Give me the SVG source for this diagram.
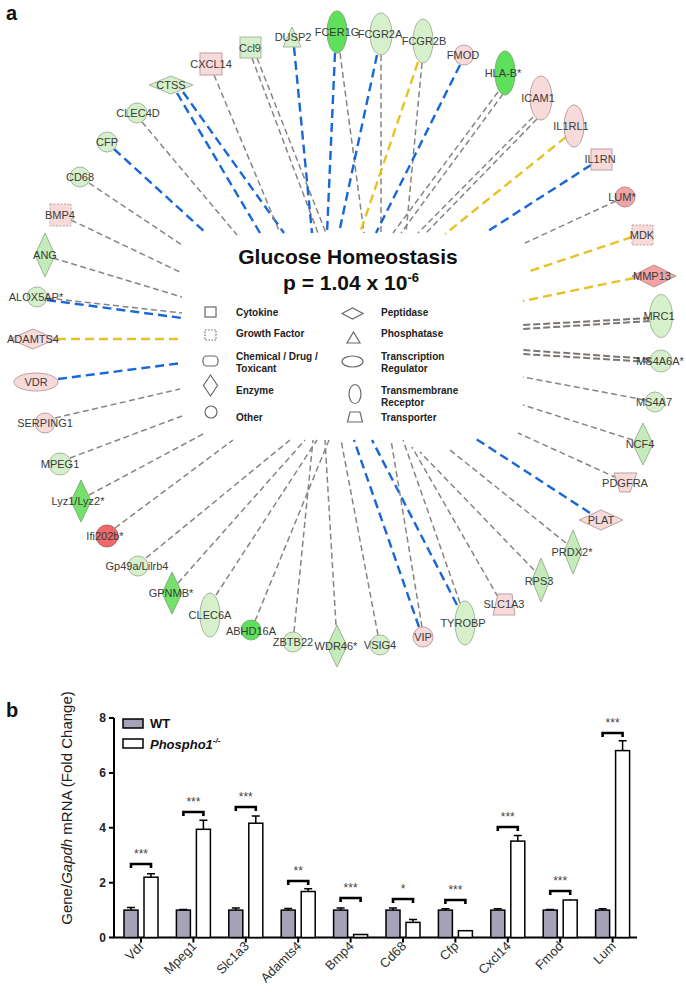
<svg xmlns="http://www.w3.org/2000/svg" width="686" height="992" viewBox="0 0 686 992">
<style>
.g{stroke:#8a8480;stroke-width:1.5;stroke-dasharray:6 3.5;fill:none}
.gt{stroke:#7d7773;stroke-width:2;stroke-dasharray:7 3;fill:none}
.b{stroke:#1767d6;stroke-width:2.4;stroke-dasharray:9 5;fill:none}
.y{stroke:#e6c229;stroke-width:2.4;stroke-dasharray:9 5;fill:none}
.lg{fill:#d6f0cb;stroke:#a5b79e;stroke-width:1}
.mg{fill:#c6ebba;stroke:#9cb394;stroke-width:1}
.bg{fill:#5fe05a;stroke:#7fae7a;stroke-width:1}
.vg{fill:#74e26a;stroke:#7fae7a;stroke-width:1}
.pk{fill:#f8dada;stroke:#b9a2a2;stroke-width:1}
.sa{fill:#f2a3a3;stroke:#b98c8c;stroke-width:1}
.rd{fill:#f06868;stroke:#b46464;stroke-width:1}
.dot{stroke-dasharray:2 1.5}
.lbl{font-family:"Liberation Sans",Arial,sans-serif;font-size:11px;fill:#3a3a3a;text-anchor:middle}
.lt{font-family:"Liberation Sans",Arial,sans-serif;font-size:10px;font-weight:bold;fill:#222}
.li{fill:none;stroke:#6a6a6a;stroke-width:1.2}
.ax{stroke:#000;stroke-width:2;fill:none}
.bar{stroke:#000;stroke-width:1.5}
.wt{fill:#a6a2b8}
.ko{fill:#fff}
.eb{stroke:#000;stroke-width:1.5;fill:none}
.br{stroke:#000;stroke-width:2.6;fill:none}
.st{font-family:"Liberation Sans",Arial,sans-serif;font-size:12px;fill:#444;text-anchor:middle}
.xl{font-family:"Liberation Sans",Arial,sans-serif;font-size:13px;fill:#333;text-anchor:end}
.yl{font-family:"Liberation Sans",Arial,sans-serif;font-size:12px;font-weight:bold;fill:#222;text-anchor:end}
</style>
<rect width="686" height="992" fill="#fff"/>
<text x="6" y="20" font-family="Liberation Sans, Arial, sans-serif" font-size="20" font-weight="bold" fill="#111">a</text>
<text x="6" y="717" font-family="Liberation Sans, Arial, sans-serif" font-size="20" font-weight="bold" fill="#111">b</text>

<g id="connectors">
<line class="b" x1="177" y1="93" x2="260" y2="233"/>
<line class="b" x1="183" y1="92" x2="284" y2="233"/>
<line class="g" x1="214" y1="75" x2="280" y2="233"/>
<line class="g" x1="252" y1="58" x2="318" y2="233"/>
<line class="g" x1="257" y1="58" x2="326" y2="233"/>
<line class="b" x1="294" y1="47" x2="312" y2="233"/>
<line class="b" x1="335" y1="53" x2="327" y2="233"/>
<line class="g" x1="340" y1="53" x2="364" y2="233"/>
<line class="b" x1="377" y1="55" x2="339" y2="233"/>
<line class="g" x1="381" y1="55" x2="381" y2="233"/>
<line class="y" x1="418" y1="62" x2="360" y2="233"/>
<line class="g" x1="422" y1="63" x2="406" y2="233"/>
<line class="b" x1="460" y1="65" x2="376" y2="233"/>
<line class="g" x1="498" y1="92" x2="393" y2="233"/>
<line class="g" x1="503" y1="94" x2="401" y2="233"/>
<line class="g" x1="533" y1="117" x2="418" y2="233"/>
<line class="g" x1="537" y1="119" x2="426" y2="233"/>
<line class="y" x1="566" y1="137" x2="445" y2="234"/>
<line class="b" x1="591" y1="165" x2="485" y2="233"/>
<line class="g" x1="616" y1="201" x2="525" y2="243"/>
<line class="y" x1="632" y1="237" x2="527" y2="272"/>
<line class="y" x1="634" y1="278" x2="523" y2="301"/>
<line class="gt" x1="650" y1="318" x2="523" y2="325"/>
<line class="gt" x1="650" y1="321" x2="523" y2="329"/>
<line class="gt" x1="650" y1="359" x2="523" y2="350"/>
<line class="gt" x1="650" y1="362" x2="523" y2="354"/>
<line class="g" x1="645" y1="400" x2="523" y2="377"/>
<line class="g" x1="633" y1="440" x2="523" y2="405"/>
<line class="g" x1="617" y1="478" x2="518" y2="433"/>
<line class="b" x1="590" y1="513" x2="473" y2="437"/>
<line class="g" x1="566" y1="543" x2="450" y2="450"/>
<line class="g" x1="534" y1="570" x2="420" y2="452"/>
<line class="g" x1="498" y1="597" x2="412" y2="447"/>
<line class="b" x1="457" y1="605" x2="372" y2="440"/>
<line class="g" x1="460" y1="603" x2="403" y2="440"/>
<line class="b" x1="419" y1="627" x2="354" y2="440"/>
<line class="g" x1="422" y1="627" x2="391" y2="440"/>
<line class="g" x1="378" y1="635" x2="341" y2="440"/>
<line class="g" x1="336" y1="625" x2="325" y2="440"/>
<line class="g" x1="294" y1="632" x2="313" y2="440"/>
<line class="g" x1="255" y1="621" x2="329" y2="440"/>
<line class="g" x1="216" y1="595" x2="317" y2="440"/>
<line class="g" x1="178" y1="583" x2="305" y2="440"/>
<line class="g" x1="146" y1="558" x2="290" y2="440"/>
<line class="g" x1="115" y1="528" x2="233" y2="440"/>
<line class="g" x1="89" y1="495" x2="205" y2="433"/>
<line class="g" x1="70" y1="458" x2="182" y2="416"/>
<line class="g" x1="55" y1="418" x2="180" y2="389"/>
<line class="b" x1="58" y1="379" x2="182" y2="363"/>
<line class="y" x1="57" y1="339" x2="182" y2="339"/>
<line class="g" x1="47" y1="298" x2="182" y2="313"/>
<line class="b" x1="47" y1="300" x2="182" y2="318"/>
<line class="g" x1="53" y1="258" x2="182" y2="297"/>
<line class="g" x1="71" y1="220" x2="182" y2="273"/>
<line class="g" x1="89" y1="183" x2="182" y2="245"/>
<line class="b" x1="114" y1="149" x2="206" y2="233"/>
<line class="g" x1="142" y1="122" x2="237" y2="235"/>
</g>

<g id="n-CTSS"><polygon class="lg" points="171,76 193,85 171,94 149,85"/><text class="lbl" x="171" y="89">CTSS</text></g>
<g id="n-CXCL14"><rect class="pk" x="200" y="53" width="22" height="22"/><text class="lbl" x="211" y="68">CXCL14</text></g>
<g id="n-Ccl9"><rect class="lg" x="240" y="37" width="21" height="21"/><text class="lbl" x="250" y="52">Ccl9</text></g>
<g id="n-DUSP2"><polygon class="lg" points="292,27 301,47 283,47"/><text class="lbl" x="293" y="41">DUSP2</text></g>
<g id="n-FCER1G"><ellipse class="bg" cx="337" cy="32" rx="10" ry="21"/><text class="lbl" x="337" y="36">FCER1G</text></g>
<g id="n-FCGR2A"><ellipse class="lg" cx="381" cy="34" rx="11" ry="21"/><text class="lbl" x="380" y="38">FCGR2A</text></g>
<g id="n-FCGR2B"><ellipse class="lg" cx="423" cy="41" rx="10" ry="22"/><text class="lbl" x="424" y="45">FCGR2B</text></g>
<g id="n-FMOD"><circle class="pk" cx="464" cy="55" r="10"/><text class="lbl" x="463" y="59">FMOD</text></g>
<g id="n-HLA-B"><ellipse class="bg" cx="505" cy="73" rx="10" ry="22"/><text class="lbl" x="503" y="77">HLA-B*</text></g>
<g id="n-ICAM1"><ellipse class="pk" cx="541" cy="98" rx="11" ry="22"/><text class="lbl" x="538" y="102">ICAM1</text></g>
<g id="n-IL1RL1"><ellipse class="pk" cx="574" cy="126" rx="10" ry="21"/><text class="lbl" x="571" y="130">IL1RL1</text></g>
<g id="n-IL1RN"><rect class="pk" x="591" y="149" width="21" height="21"/><text class="lbl" x="600" y="163">IL1RN</text></g>
<g id="n-LUM"><circle class="sa" cx="625" cy="197" r="10"/><text class="lbl" x="622" y="201">LUM*</text></g>
<g id="n-MDK"><rect class="pk dot" x="632" y="225" width="21" height="20"/><text class="lbl" x="642" y="239">MDK</text></g>
<g id="n-MMP13"><polygon class="sa" points="654,265 676,276 654,287 632,276"/><text class="lbl" x="652" y="280">MMP13</text></g>
<g id="n-MRC1"><ellipse class="lg" cx="661" cy="316" rx="11.5" ry="21.5"/><text class="lbl" x="659" y="320">MRC1</text></g>
<g id="n-MS4A6A"><circle class="lg" cx="661" cy="361" r="11"/><text class="lbl" x="660" y="365">MS4A6A*</text></g>
<g id="n-MS4A7"><circle class="lg" cx="655" cy="402" r="10"/><text class="lbl" x="654" y="406">MS4A7</text></g>
<g id="n-NCF4"><polygon class="mg" points="643,423 653,444 643,465 633,444"/><text class="lbl" x="640" y="448">NCF4</text></g>
<g id="n-PDGFRA"><polygon class="pk" points="614,473 637,473 630,492 620,492"/><text class="lbl" x="625" y="487">PDGFRA</text></g>
<g id="n-PLAT"><polygon class="pk" points="601,510 623,520 601,530 579,520"/><text class="lbl" x="601" y="524">PLAT</text></g>
<g id="n-PRDX2"><polygon class="mg" points="573,530 582,552 573,574 564,552"/><text class="lbl" x="572" y="556">PRDX2*</text></g>
<g id="n-RPS3"><polygon class="mg" points="541,558 550,580 541,602 532,580"/><text class="lbl" x="539" y="585">RPS3</text></g>
<g id="n-SLC1A3"><polygon class="pk" points="498,594 512,594 515,615 493,615"/><text class="lbl" x="504" y="608">SLC1A3</text></g>
<g id="n-TYROBP"><ellipse class="lg" cx="465" cy="623" rx="10" ry="22"/><text class="lbl" x="463" y="627">TYROBP</text></g>
<g id="n-VIP"><circle class="pk" cx="423" cy="637" r="10"/><text class="lbl" x="423" y="641">VIP</text></g>
<g id="n-VSIG4"><circle class="lg" cx="380" cy="645" r="10"/><text class="lbl" x="380" y="649">VSIG4</text></g>
<g id="n-WDR46"><polygon class="mg" points="337,625 347,646 337,667 327,646"/><text class="lbl" x="336" y="650">WDR46*</text></g>
<g id="n-ZBTB22"><circle class="lg" cx="293" cy="642" r="10"/><text class="lbl" x="293" y="646">ZBTB22</text></g>
<g id="n-ABHD16A"><circle class="bg" cx="251" cy="630" r="10"/><text class="lbl" x="251" y="635">ABHD16A</text></g>
<g id="n-CLEC6A"><ellipse class="lg" cx="210" cy="615" rx="10" ry="22"/><text class="lbl" x="210" y="619">CLEC6A</text></g>
<g id="n-GPNMB"><polygon class="vg" points="172,572 182,593 172,614 162,593"/><text class="lbl" x="171" y="597">GPNMB*</text></g>
<g id="n-Gp49a"><circle class="lg" cx="138" cy="566" r="10"/><text class="lbl" x="137" y="570">Gp49a/Lilrb4</text></g>
<g id="n-Ifi202b"><circle class="rd" cx="107" cy="536" r="11"/><text class="lbl" x="105" y="540">Ifi202b*</text></g>
<g id="n-Lyz1"><polygon class="vg" points="81,480 91,501 81,522 71,501"/><text class="lbl" x="78" y="505">Lyz1/Lyz2*</text></g>
<g id="n-MPEG1"><circle class="lg" cx="60" cy="464" r="11"/><text class="lbl" x="60" y="468">MPEG1</text></g>
<g id="n-SERPING1"><circle class="pk" cx="45" cy="423" r="10"/><text class="lbl" x="45" y="427">SERPING1</text></g>
<g id="n-VDR"><ellipse class="pk" cx="36" cy="382" rx="22" ry="9"/><text class="lbl" x="36" y="386">VDR</text></g>
<g id="n-ADAMTS4"><polygon class="pk" points="33,329 56,339 33,349 10,339"/><text class="lbl" x="33" y="343">ADAMTS4</text></g>
<g id="n-ALOX5AP"><circle class="lg" cx="37" cy="297" r="10"/><text class="lbl" x="36" y="301">ALOX5AP*</text></g>
<g id="n-ANG"><polygon class="mg" points="45,233 55,255 45,277 35,255"/><text class="lbl" x="45" y="259">ANG</text></g>
<g id="n-BMP4"><rect class="pk dot" x="50" y="204" width="21" height="22"/><text class="lbl" x="60" y="219">BMP4</text></g>
<g id="n-CD68"><circle class="lg" cx="80" cy="177" r="10"/><text class="lbl" x="80" y="181">CD68</text></g>
<g id="n-CFP"><circle class="lg" cx="107" cy="142" r="10"/><text class="lbl" x="107" y="146">CFP</text></g>
<g id="n-CLEC4D"><circle class="lg" cx="137" cy="113" r="10"/><text class="lbl" x="138" y="117">CLEC4D</text></g>

<g id="legend">
<text x="348" y="264" font-family="Liberation Sans, Arial, sans-serif" font-size="21" font-weight="bold" fill="#111" text-anchor="middle">Glucose Homeostasis</text>
<text x="351" y="290" font-family="Liberation Sans, Arial, sans-serif" font-size="21" font-weight="bold" fill="#111" text-anchor="middle">p = 1.04 x 10<tspan font-size="13" dy="-8">-6</tspan></text>
<rect class="li" x="205" y="307" width="11" height="10"/>
<rect class="li" x="205" y="330" width="11" height="10" stroke-dasharray="1.5 1.5"/>
<rect class="li" x="203" y="356" width="15" height="10" rx="4"/>
<polygon class="li" points="210.5,375 217.5,385.5 210.5,396 203.5,385.5"/>
<circle class="li" cx="211" cy="412" r="6"/>
<polygon class="li" points="342,313.5 352.5,308 363,313.5 352.5,319"/>
<polygon class="li" points="353.5,332 360,343 347,343"/>
<ellipse class="li" cx="352.5" cy="361.5" rx="10.5" ry="5.5"/>
<ellipse class="li" cx="355" cy="394" rx="6" ry="9.5"/>
<polygon class="li" points="350,412 360,412 362.5,422 347.5,422"/>
<text class="lt" x="236" y="316">Cytokine</text>
<text class="lt" x="236" y="337">Growth Factor</text>
<text class="lt" x="236" y="360">Chemical / Drug /</text>
<text class="lt" x="236" y="372">Toxicant</text>
<text class="lt" x="236" y="394">Enzyme</text>
<text class="lt" x="236" y="421">Other</text>
<text class="lt" x="381" y="316">Peptidase</text>
<text class="lt" x="381" y="337">Phosphatase</text>
<text class="lt" x="381" y="360">Transcription</text>
<text class="lt" x="381" y="372">Regulator</text>
<text class="lt" x="381" y="394">Transmembrane</text>
<text class="lt" x="381" y="406">Receptor</text>
<text class="lt" x="381" y="421">Transporter</text>
</g>

<g id="chart">
<text transform="translate(72,808) rotate(-90)" font-family="Liberation Sans, Arial, sans-serif" font-size="15" fill="#222" text-anchor="middle">Gene/<tspan font-style="italic">Gapdh</tspan> mRNA (Fold Change)</text>
<path class="ax" d="M114 718 V937.5 H637"/>
<path class="ax" d="M109 718 H114 M109 772.9 H114 M109 827.7 H114 M109 882.7 H114 M109 937.5 H114"/>
<text class="yl" x="106" y="722">8</text>
<text class="yl" x="106" y="777">6</text>
<text class="yl" x="106" y="832">4</text>
<text class="yl" x="106" y="887">2</text>
<text class="yl" x="106" y="942">0</text>
<path class="ax" d="M141 937.5 v5 M193.4 937.5 v5 M245.8 937.5 v5 M298.2 937.5 v5 M350.6 937.5 v5 M403 937.5 v5 M455.4 937.5 v5 M507.8 937.5 v5 M560.2 937.5 v5 M612.6 937.5 v5"/>
<rect class="bar wt" x="123" y="719" width="20" height="9"/>
<text x="150" y="728" font-family="Liberation Sans, Arial, sans-serif" font-size="13" font-weight="bold" fill="#111">WT</text>
<rect class="bar ko" x="123" y="739" width="20" height="9"/>
<text x="150" y="749" font-family="Liberation Sans, Arial, sans-serif" font-size="13" font-weight="bold" font-style="italic" fill="#111">Phospho1<tspan font-size="8" dy="-6">-/-</tspan></text>

<g id="wt-bars">
<rect class="bar wt" x="124" y="910.1" width="14" height="27.4"/>
<rect class="bar wt" x="176.4" y="910.1" width="14" height="27.4"/>
<rect class="bar wt" x="228.8" y="910.1" width="14" height="27.4"/>
<rect class="bar wt" x="281.2" y="910.1" width="14" height="27.4"/>
<rect class="bar wt" x="333.6" y="910.1" width="14" height="27.4"/>
<rect class="bar wt" x="386" y="910.1" width="14" height="27.4"/>
<rect class="bar wt" x="438.4" y="910.1" width="14" height="27.4"/>
<rect class="bar wt" x="490.8" y="910.1" width="14" height="27.4"/>
<rect class="bar wt" x="543.2" y="910.1" width="14" height="27.4"/>
<rect class="bar wt" x="595.6" y="910.1" width="14" height="27.4"/>
</g>
<g id="ko-bars">
<rect class="bar ko" x="144" y="877.2" width="14" height="60.3"/>
<rect class="bar ko" x="196.4" y="829.3" width="14" height="108.2"/>
<rect class="bar ko" x="248.8" y="823.2" width="14" height="114.3"/>
<rect class="bar ko" x="301.2" y="891.5" width="14" height="46"/>
<rect class="bar ko" x="353.6" y="934.5" width="14" height="3"/>
<rect class="bar ko" x="406" y="922.4" width="14" height="15.1"/>
<rect class="bar ko" x="458.4" y="930.7" width="14" height="6.8"/>
<rect class="bar ko" x="510.8" y="841.1" width="14" height="96.4"/>
<rect class="bar ko" x="563.2" y="900" width="14" height="37.5"/>
<rect class="bar ko" x="615.6" y="750.6" width="14" height="186.9"/>
</g>
<path class="eb" d="M131 910.1 V907.4 M127 907.4 H135 M183.4 910.1 V909.4 M179.4 909.4 H187.4 M235.8 910.1 V907.9 M231.8 907.9 H239.8 M288.2 910.1 V908.5 M284.2 908.5 H292.2 M340.6 910.1 V907.9 M336.6 907.9 H344.6 M393 910.1 V907.9 M389 907.9 H397 M445.4 910.1 V908.7 M441.4 908.7 H449.4 M497.8 910.1 V908.7 M493.8 908.7 H501.8 M550.2 910.1 V909.6 M546.2 909.6 H554.2 M602.6 910.1 V908.7 M598.6 908.7 H606.6"/>
<path class="eb" d="M151 877.2 V873.7 M147 873.7 H155 M203.4 829.3 V820.2 M199.4 820.2 H207.4 M255.8 823.2 V816.1 M251.8 816.1 H259.8 M308.2 891.5 V888.7 M304.2 888.7 H312.2 M413 922.4 V919.4 M409 919.4 H417 M465.4 930.7 V930.1 M517.8 841.1 V835.6 M513.8 835.6 H521.8 M570.2 900 V899.1 M622.6 750.6 V740.8 M618.6 740.8 H626.6"/>
<path class="br" d="M131 868 V864 H151 V868 M183.4 816 V812 H203.4 V816 M235.8 811 V807 H255.8 V811 M288.2 885 V881 H308.2 V885 M340.6 902 V898 H360.6 V902 M393 903 V899 H413 V903 M445.4 904 V900 H465.4 V904 M497.8 831 V827 H517.8 V831 M550.2 895 V891 H570.2 V895 M602.6 737 V733 H622.6 V737"/>
<text class="st" x="141" y="858">***</text>
<text class="st" x="193.4" y="806">***</text>
<text class="st" x="245.8" y="801">***</text>
<text class="st" x="298.2" y="875">**</text>
<text class="st" x="350.6" y="892">***</text>
<text class="st" x="403" y="893">*</text>
<text class="st" x="455.4" y="894">***</text>
<text class="st" x="507.8" y="821">***</text>
<text class="st" x="560.2" y="885">***</text>
<text class="st" x="612.6" y="727">***</text>
<text class="xl" transform="translate(145,947) rotate(-45)">Vdr</text>
<text class="xl" transform="translate(197.4,947) rotate(-45)">Mpeg1</text>
<text class="xl" transform="translate(249.8,947) rotate(-45)">Slc1a3</text>
<text class="xl" transform="translate(302.2,947) rotate(-45)">Adamts4</text>
<text class="xl" transform="translate(354.6,947) rotate(-45)">Bmp4</text>
<text class="xl" transform="translate(407,947) rotate(-45)">Cd68</text>
<text class="xl" transform="translate(459.4,947) rotate(-45)">Cfp</text>
<text class="xl" transform="translate(511.8,947) rotate(-45)">Cxcl14</text>
<text class="xl" transform="translate(564.2,947) rotate(-45)">Fmod</text>
<text class="xl" transform="translate(616.6,947) rotate(-45)">Lum</text>
</g>
</svg>
